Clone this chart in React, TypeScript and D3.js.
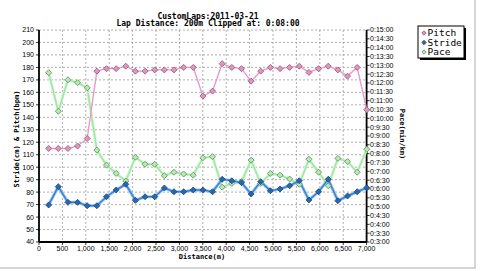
import React from "react";
import * as d3 from "d3";

const distances = [206, 412, 618, 824, 1030, 1236, 1442, 1648, 1854, 2060, 2266, 2472, 2678, 2884, 3090, 3296, 3502, 3708, 3914, 4120, 4326, 4532, 4738, 4944, 5150, 5356, 5562, 5768, 5974, 6180, 6386, 6592, 6798, 7004];
const pitch = [115, 115, 115, 117, 123, 177, 179, 179, 181, 177, 177, 178, 178, 178, 180, 180, 157, 161, 183, 180, 179, 169, 177, 180, 179, 180, 181, 176, 179, 181, 178, 173, 180, 146];
const stride = [69.7, 84.4, 71.8, 71.8, 69.1, 69.1, 76.3, 81.7, 86.3, 73.4, 76.3, 76.3, 83.3, 80.3, 80.3, 81.7, 81.6, 80.3, 90.3, 89.1, 87.6, 78.5, 88.4, 81.1, 82.5, 85.1, 89.1, 73.7, 80.3, 90.3, 73.1, 76.9, 80.3, 83.5];
// pace in seconds per km
const pace = [755, 624, 731, 721, 704, 492, 441, 413, 387, 468, 444, 444, 405, 417, 411, 407, 466, 470, 366, 379, 385, 458, 379, 413, 407, 394, 376, 461, 417, 371, 464, 453, 417, 495];

const leftTicks = d3.range(40, 211, 10);
const rightTicks = d3.range(180, 901, 30);
const xTicks = d3.range(0, 7001, 500);

const titleLines = ["CustomLaps:2011-03-21", "Lap Distance: 200m Clipped at: 0:08:00"];
const legendItems = ["Pitch", "Stride", "Pace"];

const W = 480, H = 271;
const L = 39, R = 366.6, T = 30, B = 242;

const colors = {
  pitch: { line: "#e99ac9", fill: "#dc98bd", stroke: "#9c4f78" },
  stride: { line: "#3a82d4", halo: "#9cc8f2", fill: "#2a68ae", stroke: "#17457c" },
  pace: { line: "#9fe69f", halo: "#d4f6d4", fill: "#bde8b4", stroke: "#4e8e58" },
};

const fmtPace = (s: number) => {
  const m = Math.floor(s / 60);
  const ss = s % 60;
  return `0:${m}:${ss === 0 ? "00" : String(ss).padStart(2, "0")}`;
};

function Diamond({ x, y, fill, stroke, r = 3 }: any) {
  return (
    <path
      d={`M${x},${y - r}L${x + r},${y}L${x},${y + r}L${x - r},${y}Z`}
      fill={fill}
      stroke={stroke}
      strokeWidth={0.8}
    />
  );
}

export default function App() {
  const x = d3.scaleLinear().domain([0, 7000]).range([L, R]);
  const yL = d3.scaleLinear().domain([40, 210]).range([B, T]);
  const yR = d3.scaleLinear().domain([180, 900]).range([B, T]);

  const linePitch = d3.line<number>().x((_, i) => x(distances[i])).y((d) => yL(d));
  const lineStride = d3.line<number>().x((_, i) => x(distances[i])).y((d) => yL(d));
  const linePace = d3.line<number>().x((_, i) => x(distances[i])).y((d) => yR(d));

  const tickFont = "'Liberation Sans', Arial, sans-serif";
  const monoFont = "'DejaVu Sans Mono', monospace";

  return (
    <svg
      width={W}
      height={H}
      style={{ position: "absolute", left: 0, top: 0, background: "#fff" }}
    >
      <rect x={0} y={0} width={W} height={H} fill="#fff" />
      {/* frame edges */}
      <line x1={0} y1={268} x2={476} y2={268} stroke="#c8c8c8" strokeWidth={1.5} />
      <line x1={475} y1={0} x2={475} y2={268} stroke="#c8c8c8" strokeWidth={1.5} />

      {/* title */}
      {titleLines.map((t, i) => (
        <text
          key={t}
          x={208}
          y={18.5 + i * 7.5}
          textAnchor="middle"
          fontFamily={monoFont}
          fontWeight="bold"
          fontSize={8}
          fill="#000"
        >
          {t}
        </text>
      ))}

      {/* grid */}
      {leftTicks.map((t) =>
        t === 40 ? null : (
          <line
            key={"h" + t}
            x1={L}
            x2={R}
            y1={yL(t)}
            y2={yL(t)}
            stroke="#9a9a9a"
            strokeWidth={0.8}
            strokeDasharray="2,2"
          />
        )
      )}
      {xTicks.map((t) =>
        t === 0 || t === 7000 ? null : (
          <line
            key={"v" + t}
            x1={x(t)}
            x2={x(t)}
            y1={T}
            y2={B}
            stroke="#9a9a9a"
            strokeWidth={0.8}
            strokeDasharray="2,2"
          />
        )
      )}

      {/* axes */}
      <line x1={L} x2={L} y1={T} y2={B} stroke="#000" strokeWidth={1.8} />
      <line x1={R} x2={R} y1={T} y2={B} stroke="#000" strokeWidth={1.8} />
      <line x1={L} x2={R} y1={B} y2={B} stroke="#000" strokeWidth={1.8} />

      {leftTicks.map((t) => (
        <g key={"lt" + t}>
          <line x1={L - 3} x2={L} y1={yL(t)} y2={yL(t)} stroke="#000" strokeWidth={0.8} />
          <text
            x={L - 5}
            y={yL(t)}
            dy="0.35em"
            textAnchor="end"
            fontFamily={tickFont}
            fontSize={7}
            fill="#000"
          >
            {t}
          </text>
        </g>
      ))}
      {rightTicks.map((t) => (
        <g key={"rt" + t}>
          <line x1={R} x2={R + 3} y1={yR(t)} y2={yR(t)} stroke="#000" strokeWidth={0.8} />
          <text
            x={R + 3.5}
            y={yR(t)}
            dy="0.35em"
            textAnchor="start"
            fontFamily={tickFont}
            fontSize={7}
            fill="#000"
          >
            {fmtPace(t)}
          </text>
        </g>
      ))}
      {xTicks.map((t) => (
        <g key={"xt" + t}>
          <line x1={x(t)} x2={x(t)} y1={B} y2={B + 3} stroke="#000" strokeWidth={0.8} />
          <text
            x={x(t)}
            y={251}
            textAnchor="middle"
            fontFamily={tickFont}
            fontSize={7}
            fill="#000"
          >
            {d3.format(",")(t)}
          </text>
        </g>
      ))}

      {/* axis titles */}
      <text
        x={202}
        y={258.5}
        textAnchor="middle"
        fontFamily={monoFont}
        fontWeight="bold"
        fontSize={7}
        fill="#000"
      >
        Distance(m)
      </text>
      <text
        transform={`translate(18.5,139) rotate(-90)`}
        textAnchor="middle"
        fontFamily={monoFont}
        fontWeight="bold"
        fontSize={7}
        fill="#000"
      >
        Stride(cm) &amp; Pitch(bpm)
      </text>
      <text
        transform={`translate(399.5,134) rotate(90)`}
        textAnchor="middle"
        fontFamily={monoFont}
        fontWeight="bold"
        fontSize={7}
        fill="#000"
      >
        Pace(min/km)
      </text>

      {/* series */}
      <path d={linePace(pace) || ""} fill="none" stroke={colors.pace.halo} strokeWidth={3} />
      <path d={linePace(pace) || ""} fill="none" stroke={colors.pace.line} strokeWidth={1.4} />
      <path d={lineStride(stride) || ""} fill="none" stroke={colors.stride.halo} strokeWidth={3.2} />
      <path d={lineStride(stride) || ""} fill="none" stroke={colors.stride.line} strokeWidth={1.5} />
      <path d={linePitch(pitch) || ""} fill="none" stroke={colors.pitch.line} strokeWidth={1.4} />

      {pace.map((v, i) => (
        <Diamond key={"pm" + i} x={x(distances[i])} y={yR(v)} fill={colors.pace.fill} stroke={colors.pace.stroke} />
      ))}
      {stride.map((v, i) => (
        <Diamond key={"sm" + i} x={x(distances[i])} y={yL(v)} fill={colors.stride.fill} stroke={colors.stride.stroke} />
      ))}
      {pitch.map((v, i) => (
        <Diamond key={"ptm" + i} x={x(distances[i])} y={yL(v)} fill={colors.pitch.fill} stroke={colors.pitch.stroke} />
      ))}

      {/* legend */}
      <rect x={420} y={28} width={46} height={32} fill="#000" />
      <rect x={418} y={26} width={46} height={32} fill="#fff" stroke="#000" strokeWidth={1} />
      {legendItems.map((name, i) => {
        const c = [colors.pitch, colors.stride, colors.pace][i];
        const yy = 33 + i * 9.5;
        return (
          <g key={name}>
            <Diamond x={424} y={yy} fill={c.fill} stroke={c.stroke} r={2.2} />
            <text
              x={427.5}
              y={yy}
              dy="0.36em"
              fontFamily={monoFont}
              fontSize={9.5}
              fill="#000"
            >
              {name}
            </text>
          </g>
        );
      })}
    </svg>
  );
}
